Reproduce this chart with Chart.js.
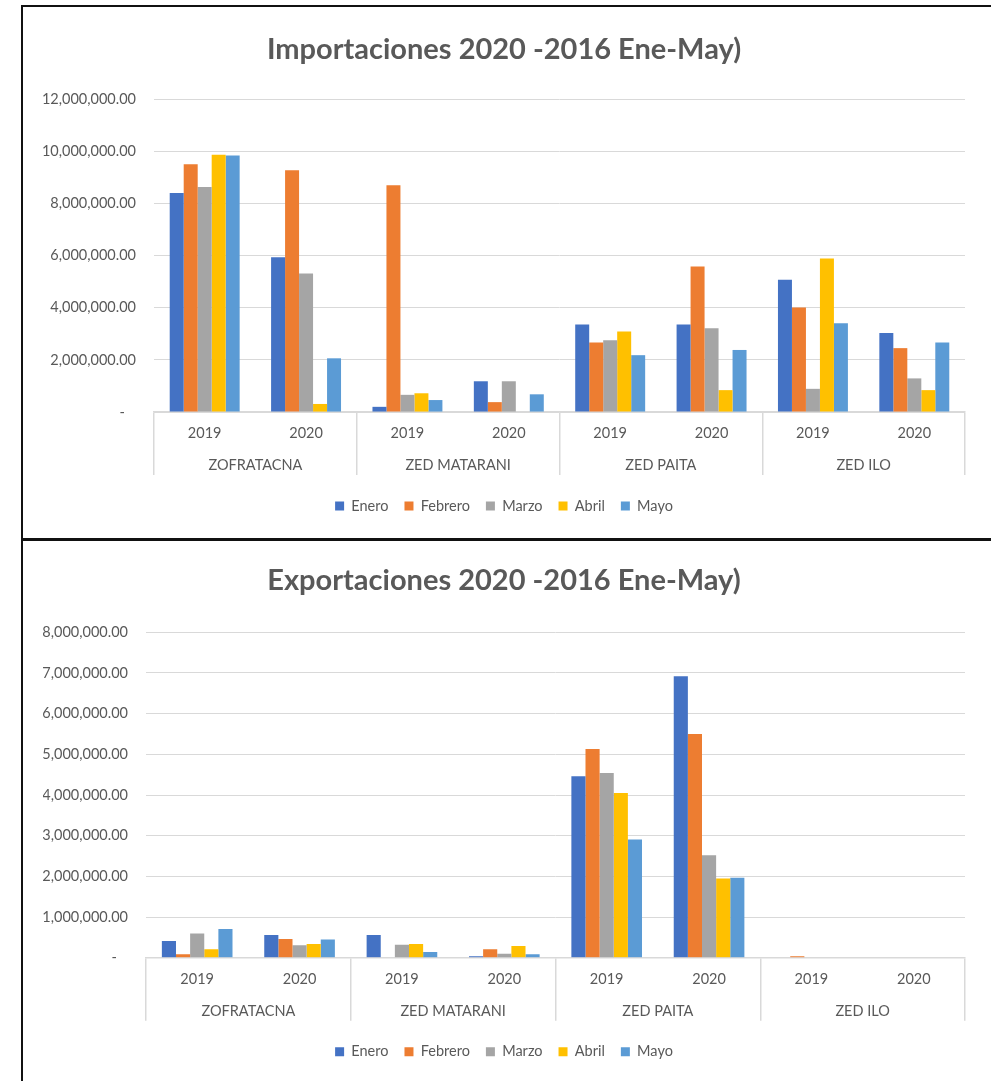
<!DOCTYPE html>
<html>
<head>
<meta charset="utf-8">
<script src="https://cdn.jsdelivr.net/npm/chart.js@4.4.1/dist/chart.umd.min.js"></script>
<style>
  body { margin: 0; background: #fff; width: 991px; height: 1081px; overflow: hidden; position: relative; }
  .frame { position: absolute; left: 21px; width: 990px; border-left: 2px solid #111; border-top: 2px solid #111; }
  #frameTop { top: 5px; height: 540px; }
  #frameBottom { top: 538px; height: 560px; border-top-width: 3px; }
  canvas { position: absolute; left: 23px; }
  #impChart { top: 7px; }
  #expChart { top: 541px; }
</style>
</head>
<body>
<div class="frame" id="frameTop"></div>
<div class="frame" id="frameBottom"></div>
<canvas id="impChart" width="968" height="531"></canvas>
<canvas id="expChart" width="968" height="540"></canvas>
<script>
const months = ['Enero', 'Febrero', 'Marzo', 'Abril', 'Mayo'];
const regions = ['ZOFRATACNA', 'ZED MATARANI', 'ZED PAITA', 'ZED ILO'];
const years = ['2019', '2020', '2019', '2020', '2019', '2020', '2019', '2020'];
const colors = ['#4472C4', '#ED7D31', '#A5A5A5', '#FFC000', '#5B9BD5'];

// Importaciones (one value per region/year)
const impEnero = [8400000, 5930000, 200000, 1180000, 3360000, 3360000, 5070000, 3030000];
const impFebrero = [9500000, 9270000, 8690000, 380000, 2670000, 5580000, 4010000, 2450000];
const impMarzo = [8630000, 5310000, 660000, 1180000, 2750000, 3210000, 890000, 1290000];
const impAbril = [9860000, 310000, 720000, 20000, 3090000, 840000, 5890000, 840000];
const impMayo = [9830000, 2060000, 460000, 680000, 2180000, 2380000, 3400000, 2670000];

// Exportaciones
const expEnero = [410000, 560000, 560000, 40000, 4460000, 6920000, 0, 0];
const expFebrero = [90000, 460000, 0, 210000, 5130000, 5500000, 40000, 0];
const expMarzo = [600000, 310000, 320000, 100000, 4540000, 2520000, 0, 0];
const expAbril = [210000, 340000, 340000, 290000, 4050000, 1950000, 0, 0];
const expMayo = [710000, 450000, 140000, 90000, 2910000, 1970000, 0, 0];

const impMax = 12000000, impStep = 2000000;
const expMax = 8000000, expStep = 1000000;

const textColor = '#595959';
const gridColor = '#d9d9d9';
const fontFamily = 'Lato, "Open Sans", sans-serif';
const labelSize = 14.5;

function fmt(v) {
    if (v === 0) return '-   ';
    return v.toFixed(2).replace(/\B(?=(\d{3})+(?!\d))/g, ',');
}

function makeChart(id, title, series, max, step, yWidth, pad) {
    const ctx = document.getElementById(id).getContext('2d');
    return new Chart(ctx, {
        type: 'bar',
        data: {
            labels: years,
            datasets: series.map((d, i) => ({
                label: months[i],
                data: d,
                backgroundColor: colors[i],
                borderWidth: 0,
                categoryPercentage: 0.69,
                barPercentage: 1.0
            }))
        },
        options: {
            responsive: false,
            animation: false,
            layout: { padding: { left: 20, right: 26, top: 0, bottom: pad.bottom } },
            plugins: {
                title: {
                    display: true,
                    text: title,
                    color: textColor,
                    font: { family: fontFamily, size: 29, weight: 'bold' },
                    padding: { top: pad.titleTop, bottom: pad.titleBottom }
                },
                legend: {
                    position: 'bottom',
                    title: { display: true, text: '', font: { size: 1 }, padding: { top: 6.5, bottom: 0 } },
                    labels: {
                        color: textColor,
                        font: { family: fontFamily, size: labelSize },
                        boxWidth: 9,
                        boxHeight: 9,
                        padding: 16
                    }
                },
                tooltip: { enabled: false }
            },
            scales: {
                y: {
                    min: 0,
                    max: max,
                    ticks: { stepSize: step, color: textColor, font: { family: fontFamily, size: labelSize }, padding: 18, callback: v => fmt(v) },
                    grid: { color: gridColor, lineWidth: 1, drawTicks: false },
                    border: { display: false },
                    afterFit: s => { s.width = yWidth; }
                },
                // years row; its long ticks at every other boundary are the region separators
                x: {
                    offset: true,
                    grid: {
                        offset: true,
                        drawOnChartArea: false,
                        tickLength: 63,
                        lineWidth: 1.5,
                        color: c => (c.index === undefined || c.index % 2 === 0) ? gridColor : 'rgba(0,0,0,0)'
                    },
                    border: { color: gridColor, width: 1.5 },
                    ticks: { mirror: true, color: textColor, font: { family: fontFamily, size: labelSize }, padding: -30, maxRotation: 0, autoSkip: false }
                },
                // regions row
                region: {
                    type: 'category',
                    position: 'bottom',
                    labels: regions,
                    offset: true,
                    grid: { offset: true, drawOnChartArea: false, tickLength: 178, color: 'rgba(0,0,0,0)' },
                    border: { display: false },
                    ticks: { mirror: true, color: textColor, font: { family: fontFamily, size: labelSize }, padding: -59, maxRotation: 0, autoSkip: false }
                }
            }
        }
    });
}

makeChart('impChart', 'Importaciones 2020 -2016 Ene-May)',
    [impEnero, impFebrero, impMarzo, impAbril, impMayo],
    impMax, impStep, 111, { titleTop: 25.6, titleBottom: 31.6, bottom: 14.75 });

makeChart('expChart', 'Exportaciones 2020 -2016 Ene-May)',
    [expEnero, expFebrero, expMarzo, expAbril, expMayo],
    expMax, expStep, 103, { titleTop: 22.6, titleBottom: 33.9, bottom: 12 });
</script>
</body>
</html>
